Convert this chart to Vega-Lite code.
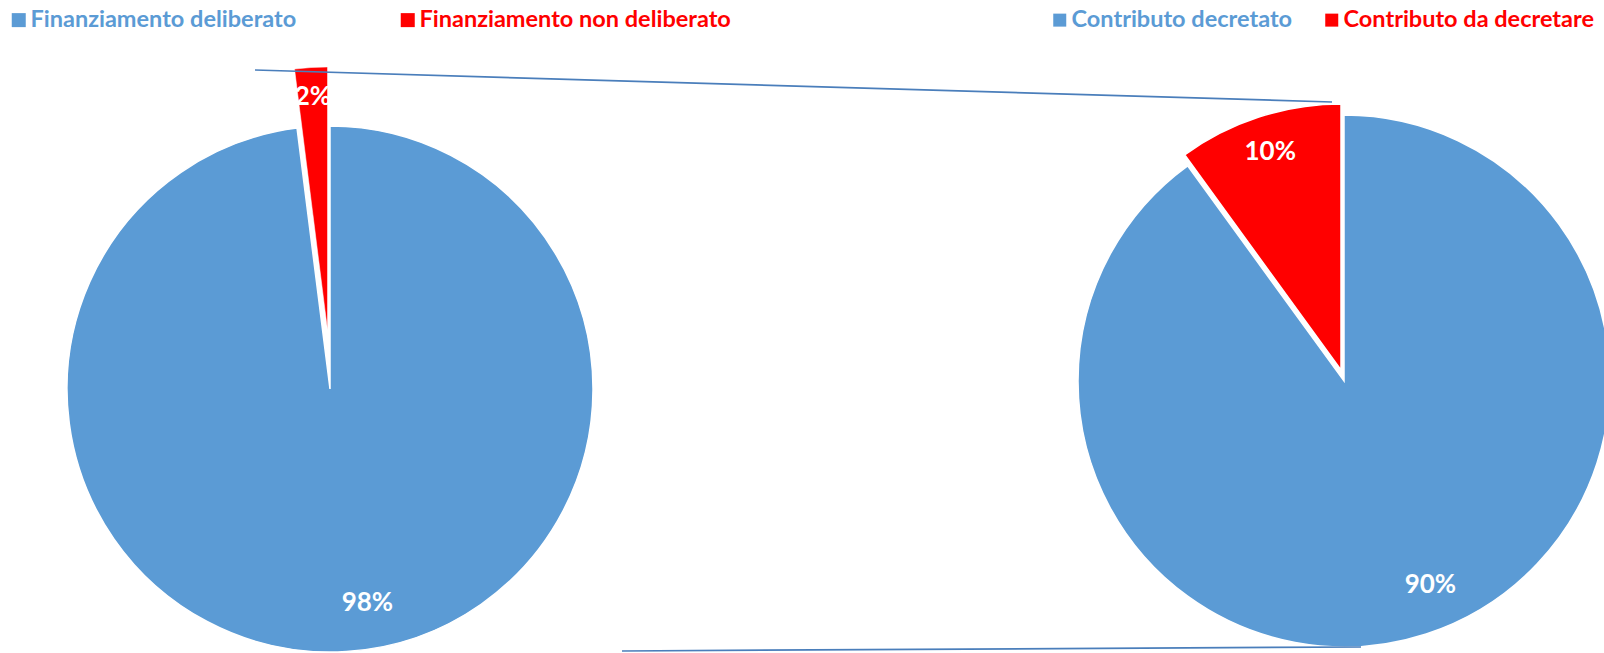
{
  "$schema": "https://vega.github.io/schema/vega-lite/v6.json",
  "width": 1604,
  "height": 653,
  "autosize": "none",
  "padding": 0,
  "background": "#ffffff",
  "config": {"view": {"stroke": null}, "font": "Lato"},
  "data": {
    "values": [
      {"pannello": "sinistra", "categoria": "Finanziamento deliberato", "quota": 0.98},
      {"pannello": "sinistra", "categoria": "Finanziamento non deliberato", "quota": 0.02},
      {"pannello": "destra", "categoria": "Contributo decretato", "quota": 0.90},
      {"pannello": "destra", "categoria": "Contributo da decretare", "quota": 0.10}
    ]
  },
  "encoding": {
    "x": {"field": "pannello", "type": "nominal", "scale": {"type": "point", "padding": 0, "domain": ["sinistra", "destra"], "range": [330, 1344]}, "axis": null},
    "y": {"field": "pannello", "type": "nominal", "scale": {"type": "point", "padding": 0, "domain": ["sinistra", "destra"], "range": [389, 381]}, "axis": null}
  },
  "layer": [
    {
      "transform": [
        {"filter": {"field": "pannello", "equal": "sinistra"}},
        {"stack": "quota", "groupby": ["pannello"], "sort": [{"field": "quota", "order": "descending"}], "as": ["t0", "t1"]}
      ],
      "layer": [
        {
          "transform": [{"filter": {"field": "categoria", "equal": "Finanziamento deliberato"}}],
          "mark": {"type": "arc", "radius": 263, "stroke": "#ffffff", "strokeWidth": 1.5},
          "encoding": {
            "theta": {"field": "t0", "type": "quantitative", "scale": {"domain": [0, 1]}},
            "theta2": {"field": "t1"},
            "color": {
              "field": "categoria", "type": "nominal",
              "scale": {"domain": ["Finanziamento deliberato", "Finanziamento non deliberato"], "range": ["#5B9BD5", "#FF0000"]},
              "legend": {
                "orient": "none", "legendX": 7, "legendY": 8, "direction": "horizontal", "title": null,
                "symbolType": "square", "symbolSize": 196, "symbolStrokeWidth": 0,
                "labelFont": "Lato", "labelFontWeight": "bold", "labelFontSize": 23.5, "labelOffset": 0,
                "columnPadding": 99, "labelLimit": 0, "padding": 0,
                "labelColor": {"expr": "datum.value === 'Finanziamento non deliberato' ? '#FF0000' : '#5B9BD5'"}
              }
            }
          }
        },
        {
          "transform": [{"filter": {"field": "categoria", "equal": "Finanziamento non deliberato"}}],
          "mark": {"type": "arc", "radius": 263, "stroke": "#ffffff", "strokeWidth": 0.5, "xOffset": -2.5, "yOffset": -59},
          "encoding": {
            "theta": {"field": "t0", "type": "quantitative", "scale": {"domain": [0, 1]}},
            "theta2": {"field": "t1"},
            "color": {"field": "categoria", "type": "nominal"}
          }
        },
        {
          "mark": {"type": "text", "radius": 214, "dx": 24, "font": "Lato", "fontWeight": "bold", "fontSize": 26, "color": "#ffffff"},
          "encoding": {
            "theta": {"field": "quota", "type": "quantitative", "stack": true, "scale": {"domain": [0, 1]}},
            "order": {"field": "quota", "sort": "descending"},
            "detail": {"field": "categoria"},
            "text": {"condition": {"test": "datum.categoria === 'Finanziamento deliberato'", "field": "quota", "format": ".0%"}, "value": ""}
          }
        },
        {
          "mark": {"type": "text", "radius": 233, "xOffset": -2.5, "yOffset": -59, "font": "Lato", "fontWeight": "bold", "fontSize": 26, "color": "#ffffff"},
          "encoding": {
            "theta": {"field": "quota", "type": "quantitative", "stack": true, "scale": {"domain": [0, 1]}},
            "order": {"field": "quota", "sort": "descending"},
            "detail": {"field": "categoria"},
            "text": {"condition": {"test": "datum.categoria === 'Finanziamento non deliberato'", "field": "quota", "format": ".0%"}, "value": ""}
          }
        }
      ]
    },
    {
      "transform": [
        {"filter": {"field": "pannello", "equal": "destra"}},
        {"stack": "quota", "groupby": ["pannello"], "sort": [{"field": "quota", "order": "descending"}], "as": ["t0", "t1"]}
      ],
      "layer": [
        {
          "transform": [{"filter": {"field": "categoria", "equal": "Contributo decretato"}}],
          "mark": {"type": "arc", "radius": 266, "stroke": "#ffffff", "strokeWidth": 1.5},
          "encoding": {
            "theta": {"field": "t0", "type": "quantitative", "scale": {"domain": [0, 1]}},
            "theta2": {"field": "t1"},
            "color": {
              "field": "categoria", "type": "nominal",
              "scale": {"domain": ["Contributo decretato", "Contributo da decretare"], "range": ["#5B9BD5", "#FF0000"]},
              "legend": {
                "orient": "none", "legendX": 1048, "legendY": 8, "direction": "horizontal", "title": null,
                "symbolType": "square", "symbolSize": 169, "symbolStrokeWidth": 0,
                "labelFont": "Lato", "labelFontWeight": "bold", "labelFontSize": 23.5, "labelOffset": 0,
                "columnPadding": 27, "labelLimit": 0, "padding": 0,
                "labelColor": {"expr": "datum.value === 'Contributo da decretare' ? '#FF0000' : '#5B9BD5'"}
              }
            }
          }
        },
        {
          "transform": [{"filter": {"field": "categoria", "equal": "Contributo da decretare"}}],
          "mark": {"type": "arc", "radius": 266, "stroke": "#ffffff", "strokeWidth": 1.5, "xOffset": -3, "yOffset": -11},
          "encoding": {
            "theta": {"field": "t0", "type": "quantitative", "scale": {"domain": [0, 1]}},
            "theta2": {"field": "t1"},
            "color": {"field": "categoria", "type": "nominal"}
          }
        },
        {
          "mark": {"type": "text", "radius": 215, "dx": 20, "font": "Lato", "fontWeight": "bold", "fontSize": 26, "color": "#ffffff"},
          "encoding": {
            "theta": {"field": "quota", "type": "quantitative", "stack": true, "scale": {"domain": [0, 1]}},
            "order": {"field": "quota", "sort": "descending"},
            "detail": {"field": "categoria"},
            "text": {"condition": {"test": "datum.categoria === 'Contributo decretato'", "field": "quota", "format": ".0%"}, "value": ""}
          }
        },
        {
          "mark": {"type": "text", "radius": 229, "xOffset": -3, "yOffset": -11, "font": "Lato", "fontWeight": "bold", "fontSize": 26, "color": "#ffffff"},
          "encoding": {
            "theta": {"field": "quota", "type": "quantitative", "stack": true, "scale": {"domain": [0, 1]}},
            "order": {"field": "quota", "sort": "descending"},
            "detail": {"field": "categoria"},
            "text": {"condition": {"test": "datum.categoria === 'Contributo da decretare'", "field": "quota", "format": ".0%"}, "value": ""}
          }
        }
      ]
    },
    {
      "data": {"values": [{"da": "sinistra", "a": "destra"}]},
      "mark": {"type": "rule", "color": "#4A7EBB", "strokeWidth": 1.75, "xOffset": -75, "x2Offset": -12, "yOffset": -319, "y2Offset": -279},
      "encoding": {
        "x": {"field": "da", "type": "nominal"},
        "x2": {"field": "a"},
        "y": {"field": "da", "type": "nominal"},
        "y2": {"field": "a"}
      }
    },
    {
      "data": {"values": [{"da": "sinistra", "a": "destra"}]},
      "mark": {"type": "rule", "color": "#4A7EBB", "strokeWidth": 1.75, "xOffset": 292, "x2Offset": 17, "yOffset": 262, "y2Offset": 266},
      "encoding": {
        "x": {"field": "da", "type": "nominal"},
        "x2": {"field": "a"},
        "y": {"field": "da", "type": "nominal"},
        "y2": {"field": "a"}
      }
    }
  ],
  "resolve": {"scale": {"color": "independent"}}
}
